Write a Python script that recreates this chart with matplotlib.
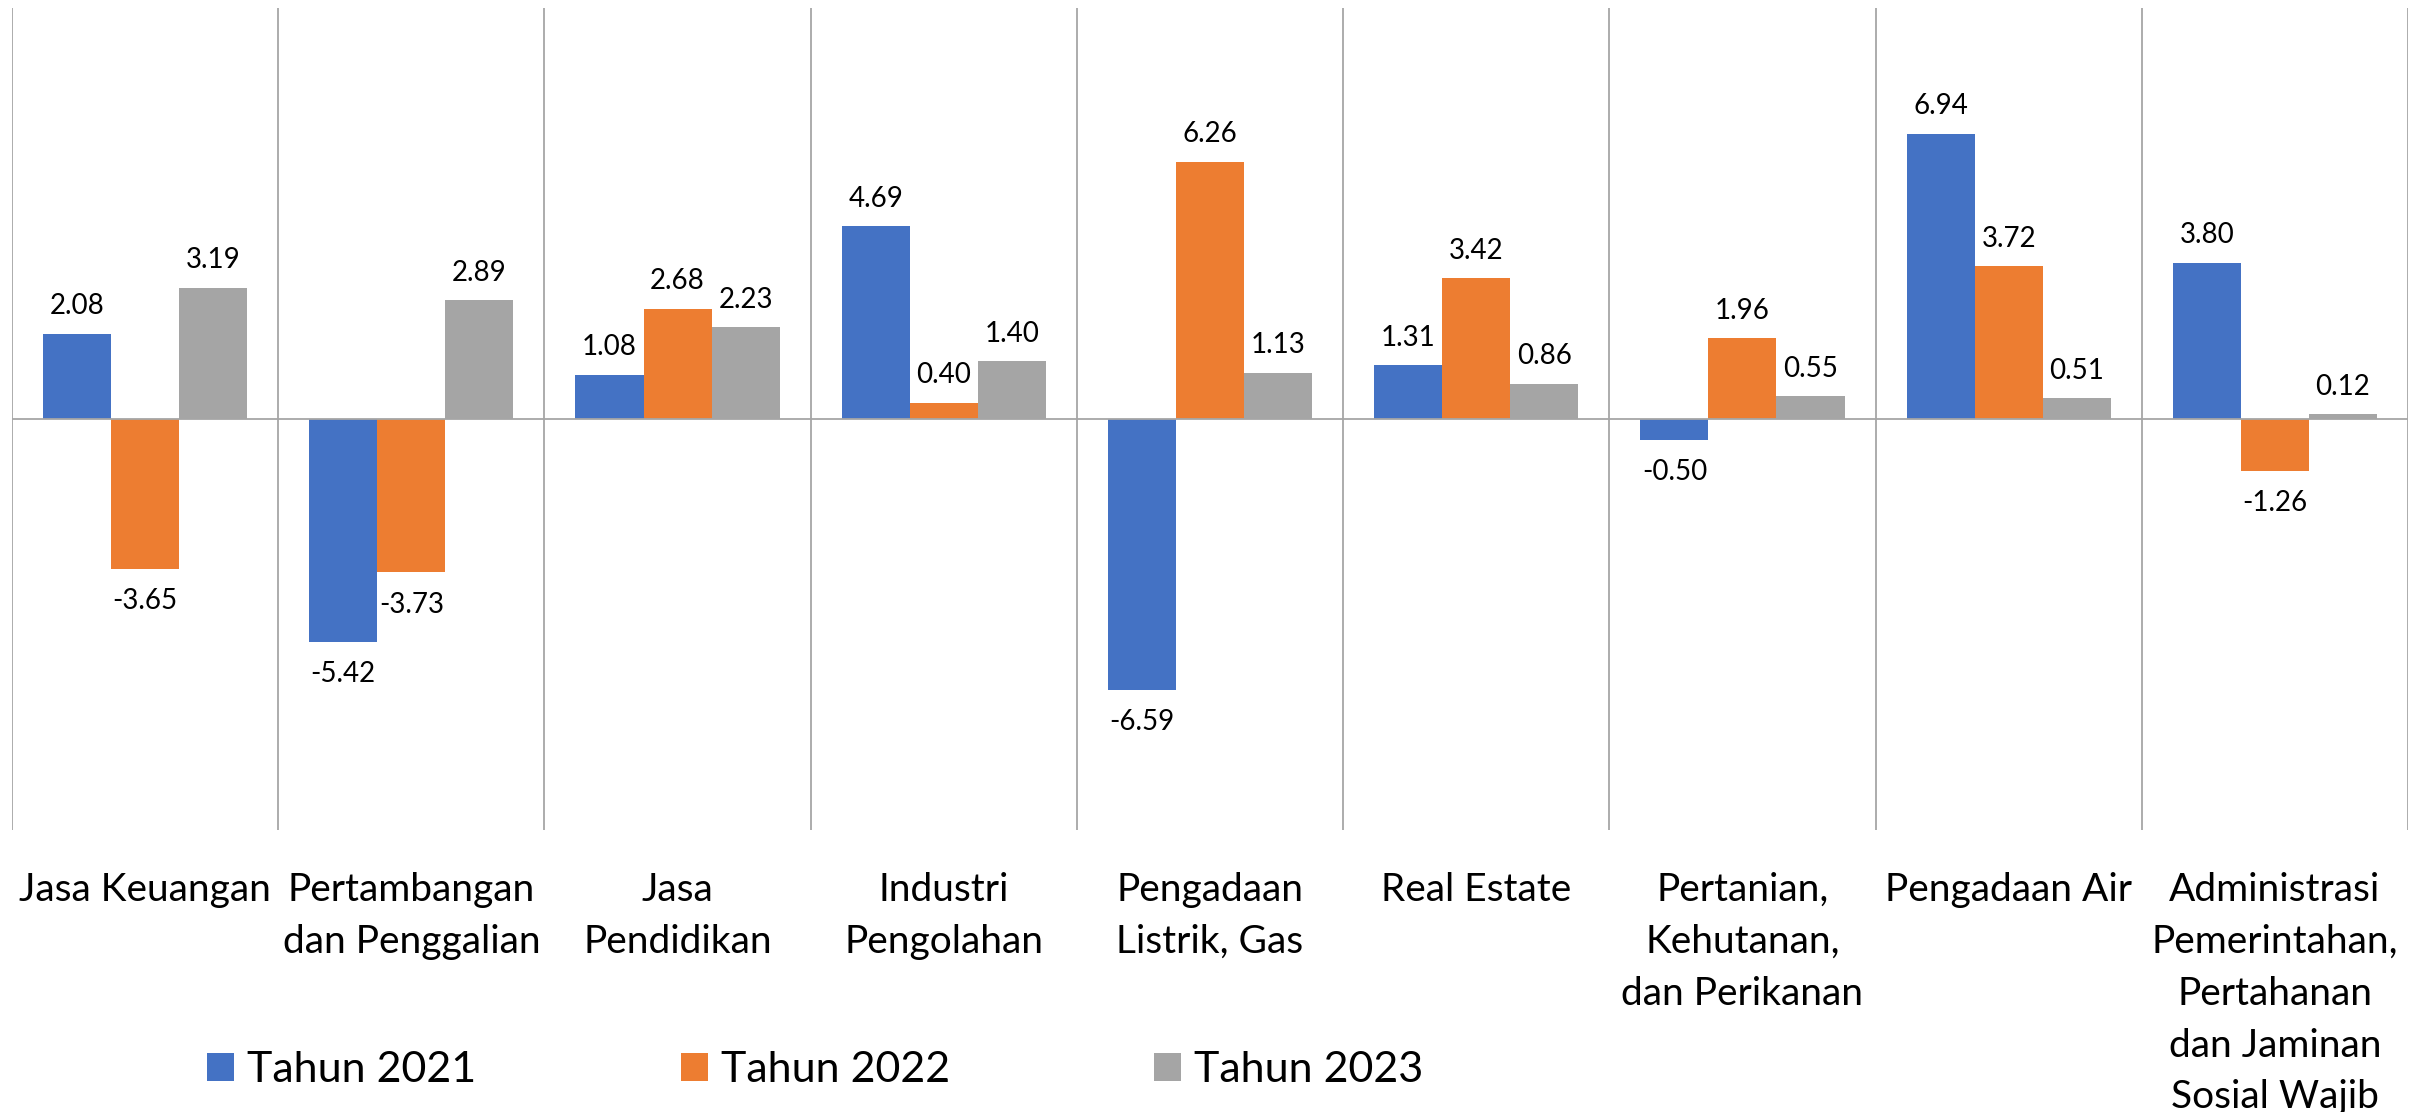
import matplotlib
matplotlib.use("Agg")
import matplotlib.pyplot as plt
from matplotlib.patches import Patch
import numpy as np

plt.rcParams['font.family'] = ['Lato', 'DejaVu Sans']

categories = [
    "Jasa Keuangan",
    "Pertambangan\ndan Penggalian",
    "Jasa\nPendidikan",
    "Industri\nPengolahan",
    "Pengadaan\nListrik, Gas",
    "Real Estate",
    "Pertanian,\nKehutanan,\ndan Perikanan",
    "Pengadaan Air",
    "Administrasi\nPemerintahan,\nPertahanan\ndan Jaminan\nSosial Wajib",
]
series_names = ["Tahun 2021", "Tahun 2022", "Tahun 2023"]
tahun_2021 = [2.08, -5.42, 1.08, 4.69, -6.59, 1.31, -0.50, 6.94, 3.80]
tahun_2022 = [-3.65, -3.73, 2.68, 0.40, 6.26, 3.42, 1.96, 3.72, -1.26]
tahun_2023 = [3.19, 2.89, 2.23, 1.40, 1.13, 0.86, 0.55, 0.51, 0.12]
colors = ["#4472C4", "#ED7D31", "#A5A5A5"]

W, H = 2425, 1112
fig = plt.figure(figsize=(W / 100, H / 100), dpi=100)
ax = fig.add_axes([12 / W, (H - 830) / H, (2408 - 12) / W, (830 - 8) / H])

n = len(categories)
x = np.arange(n)
bw = 0.2556
grid_c = "#A6A6A6"

for i, (vals, col) in enumerate(zip([tahun_2021, tahun_2022, tahun_2023], colors)):
    xs = x + (i - 1) * bw
    ax.bar(xs, vals, width=bw, color=col, linewidth=0, zorder=3)
    for xi, v in zip(xs, vals):
        if v >= 0:
            ax.annotate(f"{v:.2f}", (xi, v), xytext=(0, 14), textcoords="offset points",
                        ha="center", va="baseline", fontsize=20, color="black")
        else:
            ax.annotate(f"{v:.2f}", (xi, v), xytext=(0, -14), textcoords="offset points",
                        ha="center", va="top", fontsize=20, color="black")

for b in np.arange(-0.5, n, 1.0):
    ax.axvline(b, color=grid_c, lw=1.3, zorder=1)
ax.axhline(0, color=grid_c, lw=1.3, zorder=4)

ax.set_xlim(-0.5, n - 0.5)
ax.set_ylim(-10, 10)
for s in ax.spines.values():
    s.set_visible(False)
ax.set_yticks([])
ax.set_xticks(x)
ax.set_xticklabels(categories, fontsize=28, linespacing=1.55)
ax.tick_params(axis="x", length=0, pad=30)

handles = [Patch(facecolor=c, edgecolor="none") for c in colors]
fig.legend(handles, series_names, loc="center left", bbox_to_anchor=(207 / W, 1 - 1070 / H),
           ncol=3, frameon=False, fontsize=31, handlelength=0.63, handleheight=0.63,
           handletextpad=0.3, columnspacing=4.75, borderpad=0, borderaxespad=0)

fig.savefig("out.png", dpi=100)
